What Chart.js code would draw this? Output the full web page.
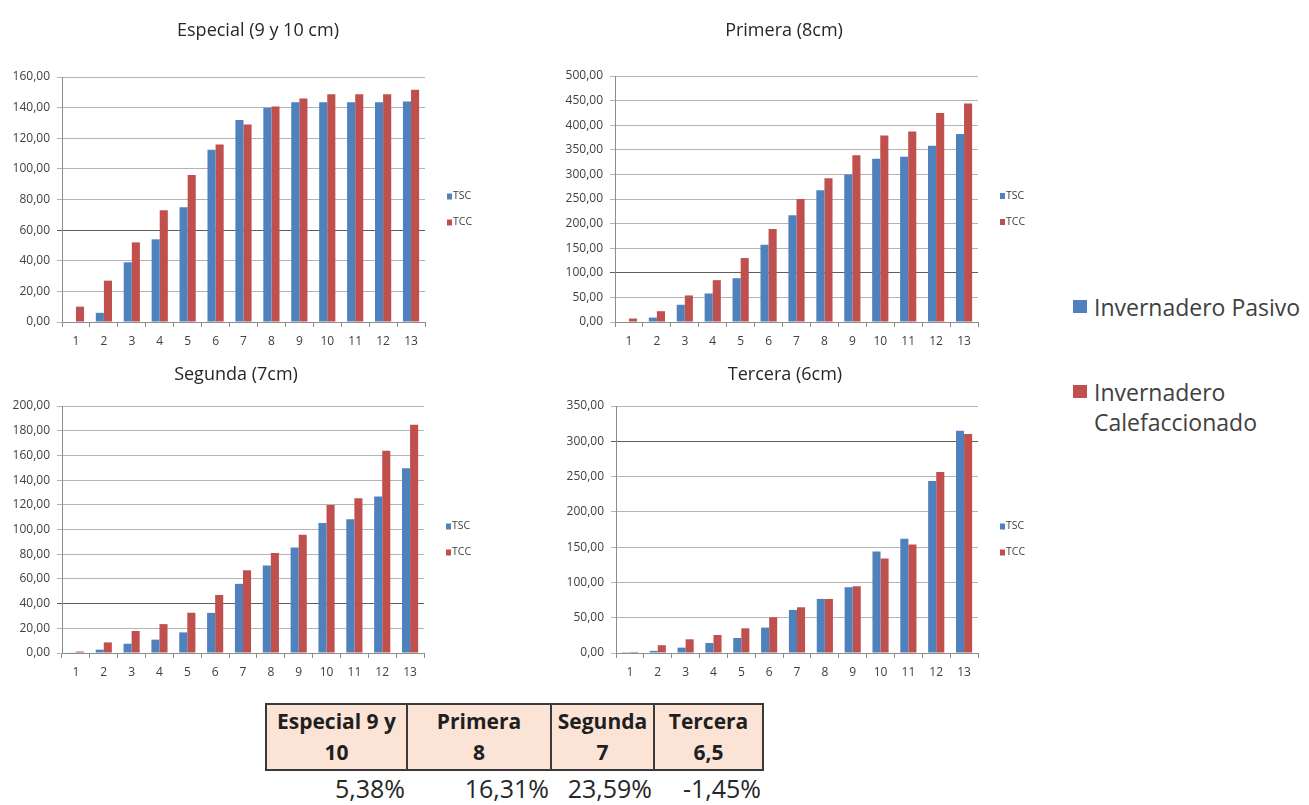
<!DOCTYPE html>
<html>
<head>
<meta charset="utf-8">
<script src="https://cdn.jsdelivr.net/npm/chart.js@4.4.1/dist/chart.umd.min.js"></script>
<style>
  html, body { margin: 0; padding: 0; background: #fff; }
  body { width: 1309px; height: 805px; position: relative; overflow: hidden; font-family: "Open Sans", sans-serif; color: #262626; }
  canvas { position: absolute; }
  .title { position: absolute; font-size: 18px; line-height: 1; white-space: nowrap; transform: translate(-50%, -50%); color: #262626; }
  .key { position: absolute; left: 1073px; font-size: 23px; line-height: 30px; color: #404040; }
  .key i { position: absolute; left: 0; width: 14px; height: 13px; }
  .key span { position: absolute; left: 21px; white-space: nowrap; }
  table.res { position: absolute; left: 265px; top: 703px; border-collapse: collapse; }
  table.res td { padding: 0; }
  table.res tr.head td { background: #fbe4d5; border: 2px solid #3a3a3a; text-align: center; font-weight: 700; font-size: 21px; line-height: 31px; height: 64px; vertical-align: middle; color: #1f1f1f; }
  table.res tr.pct td { text-align: right; font-size: 25px; line-height: 34px; padding-right: 2px; color: #262626; }
</style>
</head>
<body>
<canvas id="cEspecial"></canvas>
<canvas id="cPrimera"></canvas>
<canvas id="cSegunda"></canvas>
<canvas id="cTercera"></canvas>

<div class="title" style="left:258px; top:29px;">Especial (9 y 10 cm)</div>
<div class="title" style="left:784px; top:29px;">Primera (8cm)</div>
<div class="title" style="left:236px; top:373px;">Segunda (7cm)</div>
<div class="title" style="left:785px; top:373px;">Tercera (6cm)</div>

<div class="key" style="top:292px;"><i id="kBlue" style="top:8px;"></i><span>Invernadero Pasivo</span></div>
<div class="key" style="top:377px;"><i id="kRed" style="top:8px;"></i><span>Invernadero<br>Calefaccionado</span></div>

<table class="res" id="tabla"></table>

<script>
// Weeks 1..13 on the category axis
const categories = ['1','2','3','4','5','6','7','8','9','10','11','12','13'];

// Cumulative values per size class: TSC = passive greenhouse, TCC = heated greenhouse
const especialTSC = [0, 6, 39, 54, 75, 112.5, 132, 140, 143.5, 143.5, 143.5, 143.5, 144];
const especialTCC = [10, 27, 52, 73, 96, 116, 129, 140.7, 146, 148.7, 148.7, 148.7, 151.7];

const primeraTSC = [1, 9, 35, 58, 89, 157, 217, 268, 300, 332, 336, 358, 382];
const primeraTCC = [7, 22, 54, 85, 130, 189, 250, 292, 339, 379, 387, 425, 444];

const segundaTSC = [0.3, 2.7, 7.5, 10.8, 16.7, 32.5, 56, 70.8, 85.5, 105.2, 108.2, 126.8, 149.5];
const segundaTCC = [1.2, 8.6, 17.8, 23.4, 32.6, 47, 67, 81, 95.8, 119.8, 125.4, 163.7, 184.8];

const terceraTSC = [0.3, 3, 7.6, 14.2, 21.3, 36, 61, 76.6, 93.2, 143.8, 161.8, 243.6, 315];
const terceraTCC = [1.5, 11, 19.4, 25.5, 35, 50.6, 64.8, 76.6, 94.6, 133.9, 153.7, 256.4, 310.4];

// Summary table
const clases = ['Especial 9 y', 'Primera', 'Segunda', 'Tercera'];
const calibres = ['10', '8', '7', '6,5'];
const diferencias = ['5,38%', '16,31%', '23,59%', '-1,45%'];

const BLUE = '#4f81bd';
const RED = '#c0504d';
const AXIS = '#8c8c8c';
const TICK_FONT = { family: '"Open Sans", sans-serif', size: 12 };

// Small TSC / TCC key to the right of each plot
const seriesKey = {
  id: 'seriesKey',
  afterDraw(chart) {
    const { ctx, chartArea: a } = chart;
    const mid = (a.top + a.bottom) / 2;
    ctx.save();
    ctx.font = '10.5px "Open Sans", sans-serif';
    ctx.textBaseline = 'middle';
    chart.data.datasets.forEach((ds, i) => {
      const y = mid - 3 + i * 26;
      const x = a.right + 22;
      ctx.fillStyle = ds.backgroundColor;
      ctx.fillRect(x, y - 3, 5, 6);
      ctx.fillStyle = '#404040';
      ctx.fillText(ds.label, x + 6, y);
    });
    ctx.restore();
  }
};

function comma(v) { return v.toFixed(2).replace('.', ','); }

function makeChart(id, tsc, tcc, max, step, darkLine, box) {
  const cv = document.getElementById(id);
  cv.width = box.w; cv.height = box.h;
  cv.style.left = box.x + 'px'; cv.style.top = box.y + 'px';
  return new Chart(cv, {
    type: 'bar',
    data: {
      labels: categories,
      datasets: [
        { label: 'TSC', data: tsc, backgroundColor: BLUE },
        { label: 'TCC', data: tcc, backgroundColor: RED }
      ]
    },
    options: {
      responsive: false,
      maintainAspectRatio: false,
      animation: false,
      devicePixelRatio: 1,
      layout: { padding: { top: box.padTop, right: box.padRight, left: 0, bottom: 0 } },
      plugins: { legend: { display: false }, tooltip: { enabled: false } },
      datasets: { bar: { categoryPercentage: 0.58, barPercentage: 1 } },
      scales: {
        x: {
          grid: { drawOnChartArea: false, offset: true, tickLength: 5, color: AXIS },
          border: { color: AXIS },
          ticks: { font: TICK_FONT, color: '#404040', padding: 7, maxRotation: 0 },
          afterFit: s => { s.height = 30; }
        },
        y: {
          min: 0, max: max,
          grid: {
            tickLength: 5,
            color: c => (c.tick && c.tick.value === darkLine) ? '#5e5e5e' : '#b4b4b4'
          },
          border: { color: AXIS },
          ticks: { stepSize: step, font: TICK_FONT, color: '#404040', padding: 7, callback: v => comma(v) },
          afterFit: s => { s.width = box.yW; }
        }
      }
    },
    plugins: [seriesKey]
  });
}

makeChart('cEspecial', especialTSC, especialTCC, 160, 20, 60,
  { x: 0, y: 40, w: 480, h: 312, padTop: 37, padRight: 55, yW: 62 });
makeChart('cPrimera', primeraTSC, primeraTCC, 500, 50, 100,
  { x: 530, y: 40, w: 530, h: 312, padTop: 36, padRight: 82, yW: 85 });
makeChart('cSegunda', segundaTSC, segundaTCC, 200, 20, 40,
  { x: 0, y: 380, w: 480, h: 303, padTop: 26, padRight: 56, yW: 62 });
makeChart('cTercera', terceraTSC, terceraTCC, 350, 50, 300,
  { x: 530, y: 380, w: 530, h: 303, padTop: 26, padRight: 82, yW: 86 });

document.getElementById('kBlue').style.background = BLUE;
document.getElementById('kRed').style.background = RED;

// Summary table: class headers, then the percent difference below each column
const widths = [141, 144, 103, 109];
const tabla = document.getElementById('tabla');
const head = document.createElement('tr'); head.className = 'head';
const pct = document.createElement('tr'); pct.className = 'pct';
clases.forEach((c, i) => {
  const td = document.createElement('td');
  td.style.width = (widths[i] - 2) + 'px';
  td.appendChild(document.createTextNode(c));
  td.appendChild(document.createElement('br'));
  td.appendChild(document.createTextNode(calibres[i]));
  head.appendChild(td);
  const tp = document.createElement('td');
  tp.textContent = diferencias[i];
  pct.appendChild(tp);
});
tabla.appendChild(head);
tabla.appendChild(pct);
</script>
</body>
</html>
